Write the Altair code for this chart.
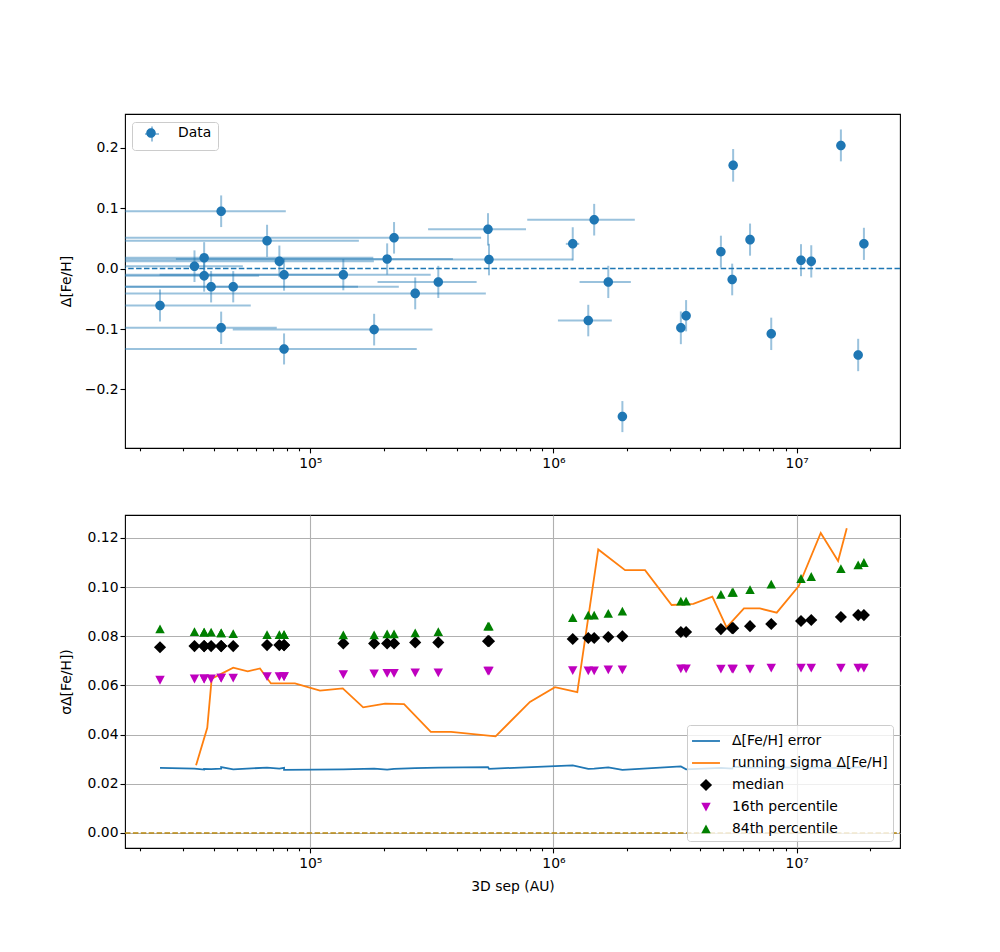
import altair as alt
import pandas as pd
import numpy as np

# ---------------- data ----------------
sep = [2.41e4, 3.34e4, 3.66e4, 3.66e4, 3.91e4, 4.30e4, 4.30e4, 4.82e4, 6.64e4, 7.46e4,
       7.80e4, 7.80e4, 1.367e5, 1.83e5, 2.07e5, 2.21e5, 2.70e5, 3.36e5, 5.38e5, 5.43e5,
       1.20e6, 1.39e6, 1.47e6, 1.68e6, 1.92e6, 3.34e6, 3.51e6, 4.88e6, 5.43e6, 5.48e6,
       6.43e6, 7.86e6, 1.042e7, 1.148e7, 1.52e7, 1.79e7, 1.89e7]
dfeh = [-0.061, 0.004, 0.018, -0.012, -0.030, 0.095, -0.098, -0.030, 0.046, 0.012,
        -0.010, -0.133, -0.010, -0.101, 0.016, 0.051, -0.041, -0.022, 0.065, 0.015,
        0.041, -0.086, 0.081, -0.022, -0.245, -0.098, -0.078, 0.028, -0.018, 0.171,
        0.048, -0.108, 0.014, 0.012, 0.204, -0.143, 0.041]
sep_err = [3.28e4, 1.94e4, 1.45e5, 2.5e4, 1.18e5, 3.63e4, 2.98e4, 1.83e5, 9.2e4, 1.08e5,
           5.4e4, 1.96e5, 1.76e5, 1.35e5, 1.79e5, 2.83e5, 2.57e5, 1.47e5, 2.33e5, 6.57e5,
           7.6e4, 3.47e5, 6.9e5, 4.0e5, 3e4, 5e4, 5e4, 8e4, 8e4, 8e4,
           1e5, 1e5, 1.5e5, 1.5e5, 2e5, 2e5, 2e5]
dfeh_err = [0.0265, 0.0262, 0.0258, 0.0261, 0.0260, 0.0262, 0.0268, 0.0259, 0.0266, 0.0262,
            0.0265, 0.0257, 0.0259, 0.0262, 0.0258, 0.0261, 0.0264, 0.0266, 0.0268, 0.0261,
            0.0275, 0.0261, 0.0262, 0.0267, 0.0257, 0.0271, 0.0259, 0.0265, 0.0262, 0.0270,
            0.0266, 0.0268, 0.0265, 0.0267, 0.0264, 0.0268, 0.0266]
median = [0.0755, 0.0760, 0.0760, 0.0760, 0.0760, 0.0760, 0.0760, 0.0760, 0.0764, 0.0764,
          0.0764, 0.0764, 0.0771, 0.0771, 0.0771, 0.0771, 0.0775, 0.0775, 0.0780, 0.0780,
          0.0789, 0.0793, 0.0793, 0.0797, 0.0800, 0.0817, 0.0817, 0.0829, 0.0833, 0.0833,
          0.0841, 0.0850, 0.0862, 0.0866, 0.0878, 0.0886, 0.0886]
p16 = [0.0622, 0.0627, 0.0627, 0.0627, 0.0627, 0.0631, 0.0631, 0.0631, 0.0637, 0.0637,
       0.0637, 0.0637, 0.0645, 0.0648, 0.0650, 0.0650, 0.0652, 0.0652, 0.0659, 0.0659,
       0.0661, 0.0660, 0.0660, 0.0664, 0.0664, 0.0668, 0.0668, 0.0667, 0.0667, 0.0667,
       0.0667, 0.0671, 0.0671, 0.0671, 0.0671, 0.0671, 0.0671]
p84 = [0.0829, 0.0818, 0.0816, 0.0816, 0.0816, 0.0813, 0.0813, 0.0810, 0.0806, 0.0806,
       0.0806, 0.0806, 0.0805, 0.0805, 0.0809, 0.0809, 0.0813, 0.0818, 0.0840, 0.0840,
       0.0875, 0.0885, 0.0885, 0.0892, 0.0901, 0.0942, 0.0942, 0.0969, 0.0978, 0.0978,
       0.0989, 0.1011, 0.1034, 0.1042, 0.1074, 0.1089, 0.1099]
sig_sep = [3.39e4, 3.77e4, 3.93e4, 4.32e4, 4.82e4, 5.53e4, 6.21e4, 6.89e4, 8.65e4, 1.096e5,
           1.36e5, 1.65e5, 2.03e5, 2.43e5, 3.13e5, 3.79e5, 5.78e5, 8.0e5, 1.014e6, 1.253e6,
           1.528e6, 1.97e6, 2.38e6, 3.06e6, 3.76e6, 4.50e6, 5.15e6, 6.07e6, 7.06e6, 8.28e6,
           1.02e7, 1.256e7, 1.48e7, 1.607e7]
sig_val = [0.0275, 0.0428, 0.0627, 0.0648, 0.0672, 0.0657, 0.0669, 0.0608, 0.0608, 0.0579,
           0.0588, 0.0511, 0.0526, 0.0524, 0.0411, 0.0411, 0.0393, 0.0533, 0.0593, 0.0573,
           0.1153, 0.1069, 0.1069, 0.0927, 0.0932, 0.0961, 0.0836, 0.0913, 0.0913, 0.0896,
           0.1004, 0.1220, 0.1106, 0.1239]

series_names = ["Δ[Fe/H] error", "running sigma Δ[Fe/H]", "median",
                "16th percentile", "84th percentile"]
series_colors = ["#1f77b4", "#ff7f0e", "#000000", "#bf00bf", "#008000"]

x_ticks = [m * 10 ** e for e in range(4, 8) for m in range(1, 10)]
x_ticks = [t for t in x_ticks if 1.73e4 <= t <= 2.66e7]
top_yticks = [-0.2, -0.1, 0.0, 0.1, 0.2]
bot_yticks = [0.0, 0.02, 0.04, 0.06, 0.08, 0.10, 0.12]

# ---------------- styling ----------------
XDOM = [1.73e4, 2.66e7]
FS = 13.9
C0 = "#1f77b4"
MAJOR = "datum.value == 100000 || datum.value == 1000000 || datum.value == 10000000"
LABELS = ("datum.value == 100000 ? '10⁵' : datum.value == 1000000 ? '10⁶' : "
          "datum.value == 10000000 ? '10⁷' : ''")

CIRCLE = "M-0.68,0A0.68,0.68,0,1,1,0.68,0A0.68,0.68,0,1,1,-0.68,0Z"
CROSS = "M-1,0H1M0,-1.07V1.07"
LINE = "M-1.27,-0.08H1.27V0.08H-1.27Z"
DIAMOND = "M0,-0.55L0.55,0L0,0.55L-0.55,0Z"
TRI_DOWN = "M-0.43,-0.38L0.43,-0.38L0,0.42Z"
TRI_UP = "M-0.43,0.38L0.43,0.38L0,-0.42Z"
series_shapes = [LINE, LINE, DIAMOND, TRI_DOWN, TRI_UP]


def xaxis(title=None, grid=False):
    kw = dict(values=x_ticks, labelExpr=LABELS, labelOverlap=False, labelFlush=False,
              tickSize={"condition": {"test": MAJOR, "value": 4.9}, "value": 2.8},
              labelPadding=4, title=title, titlePadding=9)
    if grid:
        kw["grid"] = True
        kw["gridOpacity"] = {"condition": {"test": MAJOR, "value": 1}, "value": 0}
    else:
        kw["grid"] = False
    return alt.Axis(**kw)


xscale = alt.Scale(type="log", domain=XDOM, nice=False, clamp=True)

# ---------------- top panel ----------------
HIDDEN = "Data\u200b"
top_df = pd.DataFrame({"sep": sep, "dfeh": dfeh, "sep_err": sep_err, "dfeh_err": dfeh_err})
top_df["lo"] = np.where(top_df.sep - top_df.sep_err > 0, top_df.sep - top_df.sep_err, 1e3)
top_df["hi"] = top_df.sep + top_df.sep_err
top_df["ylo"] = top_df.dfeh - top_df.dfeh_err
top_df["yhi"] = top_df.dfeh + top_df.dfeh_err
top_df["lbl"] = "Data"
top_df["lbl_err"] = HIDDEN

ytop = alt.Scale(domain=[-0.297, 0.256], nice=False, zero=False)
ytop_axis = alt.Axis(values=top_yticks, format=".1f", title="Δ[Fe/H]", grid=False,
                     minExtent=47, maxExtent=47, titlePadding=4.7)

err_color = alt.Color("lbl_err:N", scale=alt.Scale(domain=[HIDDEN], range=[C0]),
                      legend=alt.Legend(orient="none", legendX=7, legendY=8, title=None,
                                        symbolType=CROSS, symbolSize=196, symbolStrokeWidth=2,
                                        symbolOpacity=0.45, labelOpacity=0, padding=4,
                                        symbolOffset=8, labelOffset=20, labelFontSize=FS,
                                        strokeColor="#cccccc", fillColor="rgba(255,255,255,0.8)",
                                        cornerRadius=3))

hbars = alt.Chart(top_df).mark_rule(strokeWidth=2, opacity=0.45).encode(
    x=alt.X("lo:Q", scale=xscale, axis=xaxis()),
    x2="hi:Q",
    y=alt.Y("dfeh:Q", scale=ytop, axis=ytop_axis),
    color=err_color,
)
vbars = alt.Chart(top_df).mark_rule(strokeWidth=2, opacity=0.45).encode(
    x=alt.X("sep:Q", scale=xscale),
    y=alt.Y("ylo:Q", scale=ytop),
    y2="yhi:Q",
    color=err_color,
)
zero_top = alt.Chart(pd.DataFrame({"y": [0.0]})).mark_rule(
    color=C0, strokeDash=[5.5, 2.4], strokeWidth=1.5).encode(y=alt.Y("y:Q", scale=ytop))
pts_top = alt.Chart(top_df).mark_point(filled=True, size=196, color=C0, opacity=1,
                                       strokeWidth=0).encode(
    x=alt.X("sep:Q", scale=xscale),
    y=alt.Y("dfeh:Q", scale=ytop),
    shape=alt.Shape("lbl:N", scale=alt.Scale(domain=["Data"], range=[CIRCLE]),
                    legend=alt.Legend(orient="none", legendX=7, legendY=8, title=None,
                                      symbolSize=196, symbolFillColor=C0, symbolStrokeWidth=0,
                                      padding=4, symbolOffset=8, labelOffset=20,
                                      labelFontSize=FS, labelColor="black")),
)
top = alt.layer(hbars, vbars, zero_top, pts_top).properties(width=775, height=334)

# ---------------- bottom panel ----------------
ybot = alt.Scale(domain=[-0.0061, 0.1293], nice=False, zero=False)
ybot_axis = alt.Axis(values=bot_yticks, format=".2f", title="σΔ[Fe/H])", grid=True,
                     minExtent=47, maxExtent=47, titlePadding=4.7)

err_df = pd.DataFrame({"sep": sep, "val": dfeh_err})
sig_df = pd.DataFrame({"sep": sig_sep, "val": sig_val})
mk_df = pd.DataFrame({
    "sep": sep * 3,
    "val": median + p16 + p84,
    "series": [series_names[2]] * len(sep) + [series_names[3]] * len(sep)
              + [series_names[4]] * len(sep),
})

zero_bot = alt.Chart(pd.DataFrame({"y": [0.0]})).mark_rule(
    color="#b8860b", strokeDash=[5.5, 2.4], strokeWidth=1.5).encode(
    y=alt.Y("y:Q", scale=ybot, axis=ybot_axis),
    x=alt.value(0), x2=alt.value(775))
err_line = alt.Chart(err_df).mark_line(color=C0, strokeWidth=1.8).encode(
    x=alt.X("sep:Q", scale=xscale, axis=xaxis("3D sep (AU)", grid=True)),
    y=alt.Y("val:Q", scale=ybot))
sig_line = alt.Chart(sig_df).mark_line(color="#ff7f0e", strokeWidth=1.8).encode(
    x=alt.X("sep:Q", scale=xscale),
    y=alt.Y("val:Q", scale=ybot))

bot_legend = alt.Legend(orient="bottom-right", offset=7, title=None, symbolSize=484,
                        symbolStrokeWidth=0, labelFontSize=FS, padding=5, rowPadding=4,
                        symbolOffset=3, labelOffset=15, strokeColor="#cccccc",
                        fillColor="rgba(255,255,255,0.8)", cornerRadius=3, labelColor="black")
markers = alt.Chart(mk_df).mark_point(filled=True, size=484, opacity=1, strokeWidth=0).encode(
    x=alt.X("sep:Q", scale=xscale),
    y=alt.Y("val:Q", scale=ybot),
    color=alt.Color("series:N", scale=alt.Scale(domain=series_names, range=series_colors),
                    legend=bot_legend),
    shape=alt.Shape("series:N", scale=alt.Scale(domain=series_names, range=series_shapes),
                    legend=bot_legend),
)
bottom = alt.layer(zero_bot, err_line, sig_line, markers).properties(width=775, height=333)

chart = alt.vconcat(top, bottom, spacing=67, bounds="flush").resolve_scale(
    color="independent", shape="independent"
).properties(
    padding={"left": 50, "top": 105, "right": 60, "bottom": 16}
).configure(font="DejaVu Sans").configure_view(
    stroke="black", strokeWidth=1.1
).configure_axis(
    domain=False, tickColor="black", tickWidth=1.1, labelFontSize=FS, titleFontSize=FS,
    titleFontWeight="normal", labelColor="black", titleColor="black",
    gridColor="#b0b0b0", gridWidth=1.1
)

chart.save("out.html", embed_options={"renderer": "svg", "actions": False})
